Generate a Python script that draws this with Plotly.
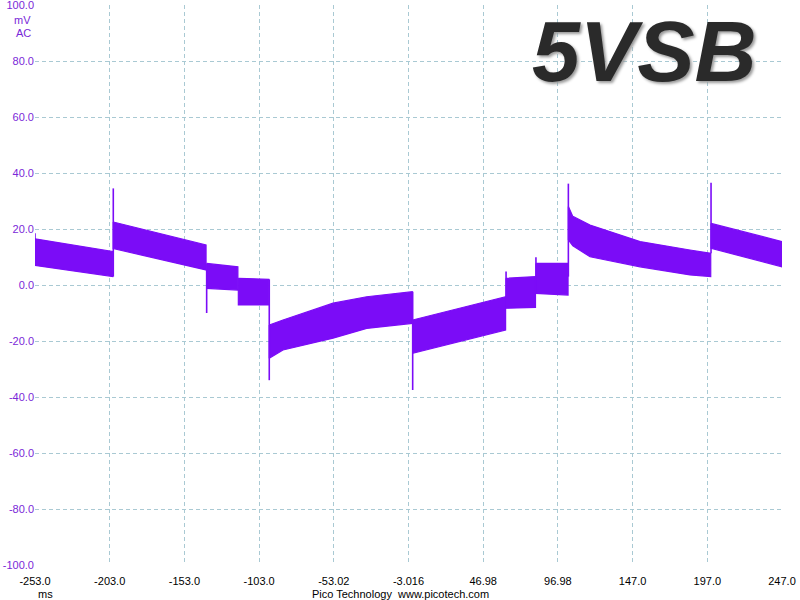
import plotly.graph_objects as go

# ---- data (time in ms, voltage in mV) ----
seg_times = [
    [-253.0, -201.0],
    [-200.6, -138.5],
    [-138.1, -117.2],
    [-116.9, -96.5],
    [-96.2, -87.0, -53.5, -31.0, -0.5],
    [-0.2, 31.5, 62.0],
    [62.3, 82.0],
    [82.3, 103.8],
    [104.0, 107.0, 118.5, 152.0, 185.4, 199.3],
    [199.5, 247.0],
]
seg_upper = [
    [16.5, 12.0],
    [22.5, 14.3],
    [7.7, 6.5],
    [2.4, 2.0],
    [-14.3, -12.5, -6.5, -4.2, -2.4],
    [-12.5, -8.3, -4.2],
    [2.4, 3.0],
    [7.7, 7.7],
    [28.0, 24.5, 21.4, 15.5, 12.5, 11.3],
    [22.0, 15.5],
]
seg_lower = [
    [7.0, 3.0],
    [13.0, 5.4],
    [-1.2, -1.8],
    [-7.1, -7.1],
    [-26.2, -23.2, -19.0, -15.5, -13.7],
    [-24.4, -20.2, -16.1],
    [-8.3, -8.0],
    [-3.0, -3.6],
    [16.1, 14.0, 10.1, 6.5, 3.6, 3.0],
    [13.1, 6.5],
]
spike_t = [-253.0, -200.6, -138.1, -96.2, -0.2, 62.3, 82.3, 104.0, 199.5]
spike_base = [7.0, 3.0, 5.4, 2.0, -2.4, -8.3, -3.0, 3.0, 11.3]
spike_tip = [18.5, 34.5, -10.0, -34.0, -37.5, 4.8, 9.9, 36.2, 36.5]

x_tick_vals = [-253.0, -203.0, -153.0, -103.0, -53.02, -3.016, 46.98, 96.98, 147.0, 197.0, 247.0]
x_tick_text = ["-253.0", "-203.0", "-153.0", "-103.0", "-53.02", "-3.016",
               "46.98", "96.98", "147.0", "197.0", "247.0"]
y_tick_vals = [100, 80, 60, 40, 20, 0, -20, -40, -60, -80, -100]
y_tick_text = ["100.0", "80.0", "60.0", "40.0", "20.0", "0.0",
               "-20.0", "-40.0", "-60.0", "-80.0", "-100.0"]

TRACE = "#7b0cf7"
LABEL = "#7a28d8"
GRID = "#a9c9d3"
FONT = "Liberation Sans"
FS = 11

# build closed band polygons per segment
bx, by = [], []
for t, up, lo in zip(seg_times, seg_upper, seg_lower):
    bx += t + t[::-1] + [t[0], None]
    by += up + lo[::-1] + [up[0], None]

sx, sy = [], []
for t, b, tip in zip(spike_t, spike_base, spike_tip):
    sx += [t, t, None]
    sy += [b, tip, None]

fig = go.Figure()
fig.add_trace(go.Scatter(x=bx, y=by, mode="lines", fill="toself",
                         fillcolor=TRACE, line=dict(color=TRACE, width=1.2),
                         hoverinfo="skip", showlegend=False))
fig.add_trace(go.Scatter(x=sx, y=sy, mode="lines",
                         line=dict(color=TRACE, width=1.6),
                         hoverinfo="skip", showlegend=False))

fig.update_layout(
    width=800, height=600,
    margin=dict(l=35, r=18, t=5, b=35, autoexpand=False),
    paper_bgcolor="white", plot_bgcolor="white",
    font=dict(family=FONT, size=FS, color="black"),
    xaxis=dict(range=[-253, 247], tickvals=x_tick_vals, ticktext=x_tick_text,
               showgrid=True, gridcolor=GRID, griddash="4px,3px", gridwidth=1,
               zeroline=False, showline=False, ticks="", automargin=False,
               ticklabeloverflow="allow", ticklabelstandoff=8,
               tickfont=dict(family=FONT, size=FS, color="black")),
    yaxis=dict(range=[-100, 100], tickvals=y_tick_vals, ticktext=y_tick_text,
               showgrid=True, gridcolor=GRID, griddash="4px,3px", gridwidth=1,
               zeroline=False, showline=False, ticks="", automargin=False,
               ticklabeloverflow="allow",
               tickfont=dict(family=FONT, size=FS, color=LABEL)),
    annotations=[
        dict(text="mV", xref="paper", yref="paper", x=0, y=(565 - 20) / 560,
             xanchor="right", yanchor="middle", showarrow=False, xshift=-2,
             font=dict(family=FONT, size=FS, color=LABEL)),
        dict(text="AC", xref="paper", yref="paper", x=0, y=(565 - 33) / 560,
             xanchor="right", yanchor="middle", showarrow=False, xshift=-2,
             font=dict(family=FONT, size=FS, color=LABEL)),
        dict(text="ms", xref="paper", yref="paper", x=(45 - 35) / 747, y=-29 / 560,
             xanchor="center", yanchor="middle", showarrow=False,
             font=dict(family=FONT, size=FS, color="black")),
        dict(text="Pico Technology  www.picotech.com", xref="paper", yref="paper",
             x=(400 - 35) / 747, y=-29 / 560, xanchor="center", yanchor="middle",
             showarrow=False, font=dict(family=FONT, size=FS, color="black")),
        dict(text="5VSB", xref="paper", yref="paper", x=(644 - 35) / 747,
             y=(565 - 51) / 560, xanchor="center", yanchor="middle", showarrow=False,
             font=dict(family=FONT, size=86, color="#2a2a2a", weight="bold",
                       style="italic", shadow="2px 2px 3px #9a9a9a")),
    ],
)

fig.write_html(
    "out.html",
    config={"displayModeBar": False},
    post_script="document.body.style.margin='0';document.body.style.overflow='hidden';",
)
